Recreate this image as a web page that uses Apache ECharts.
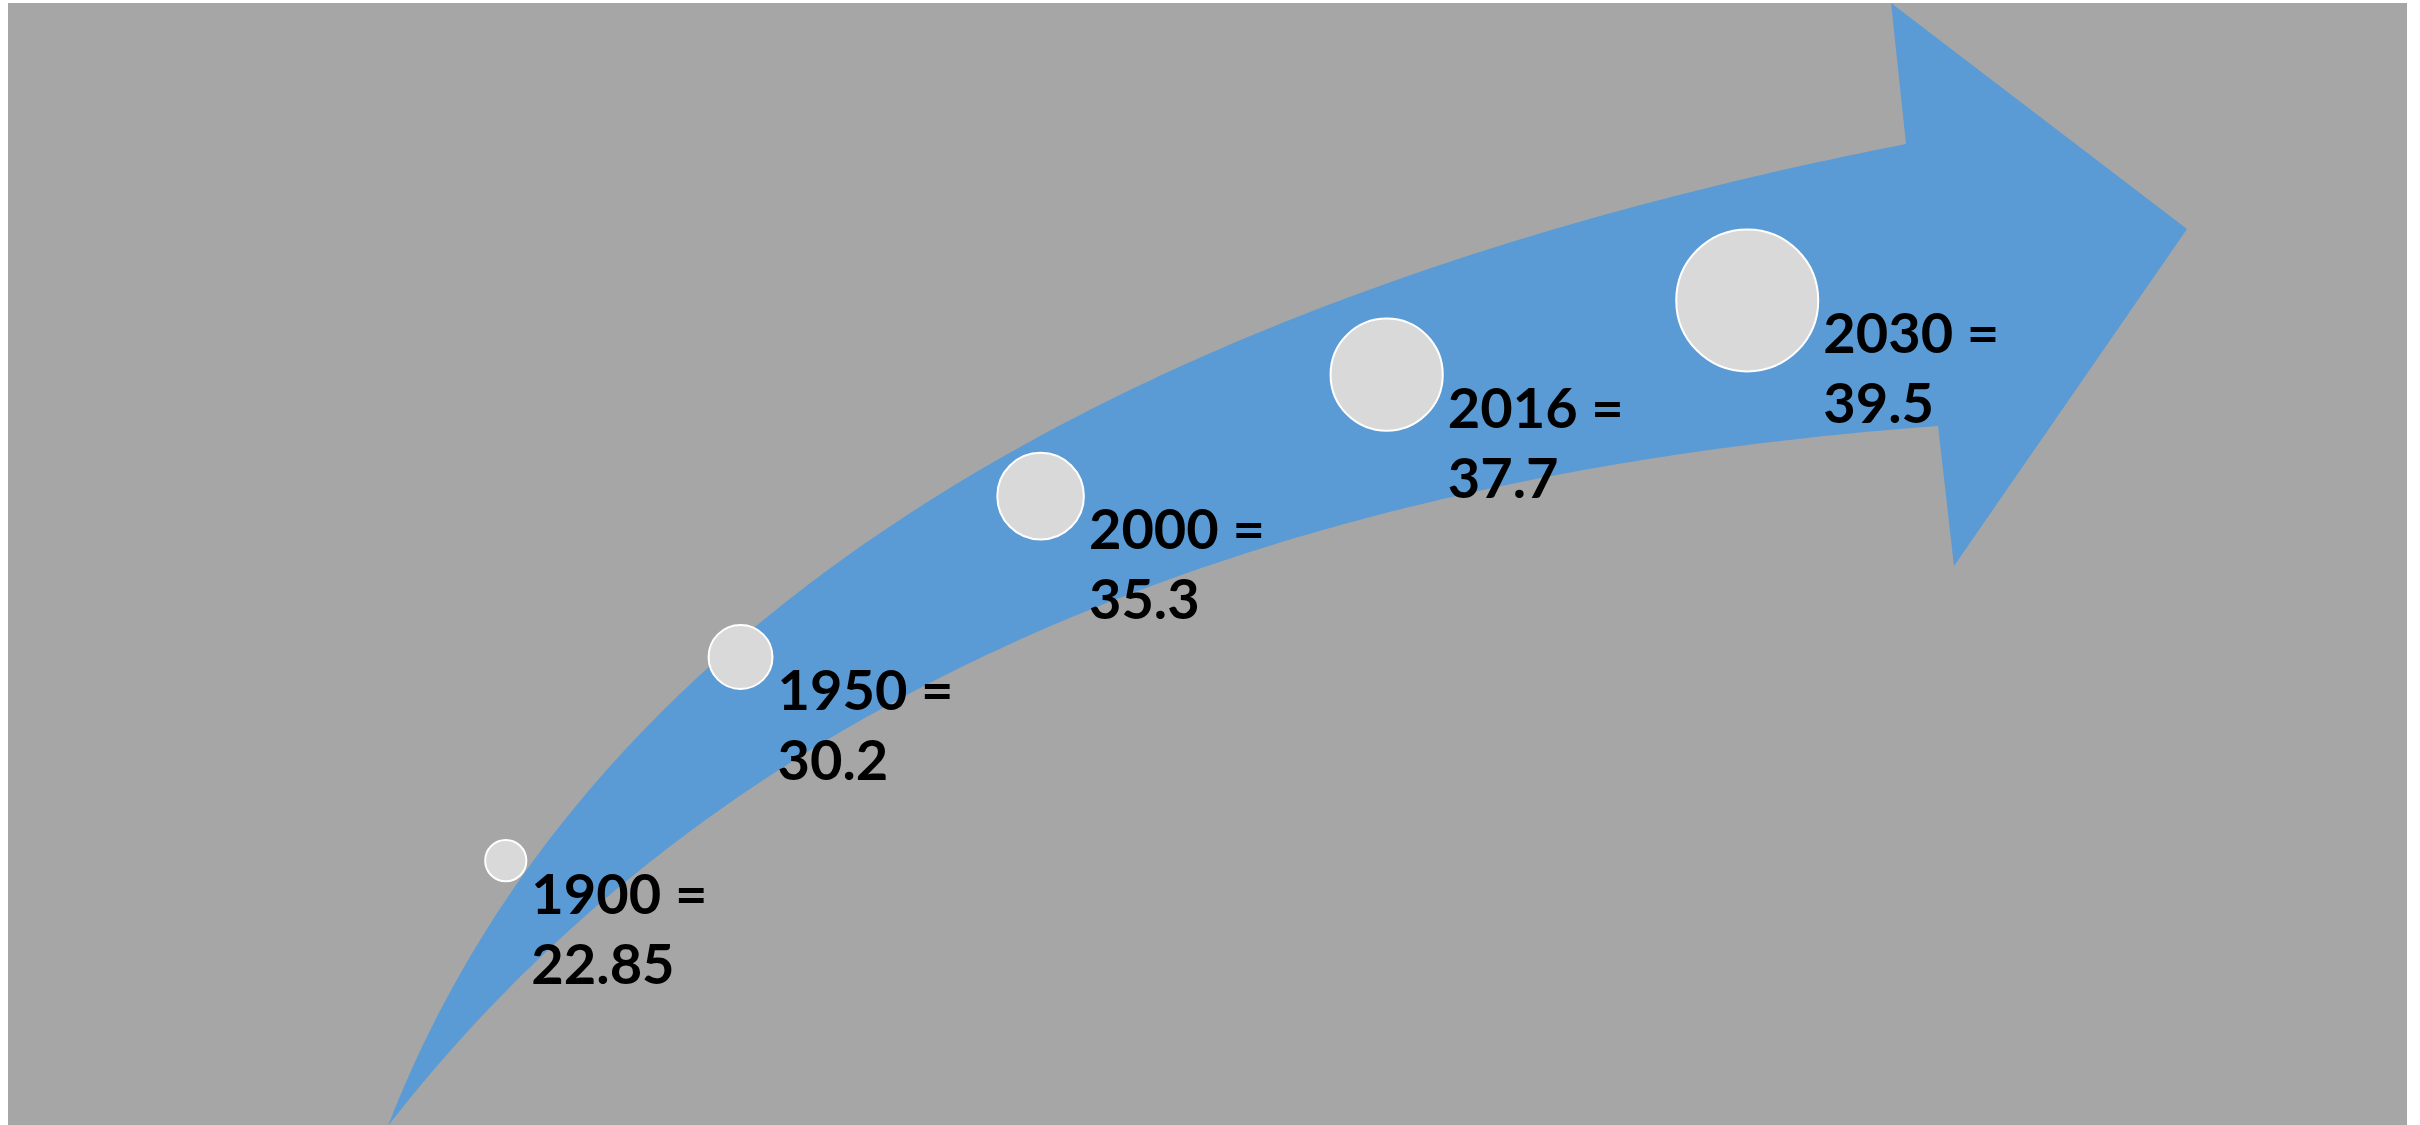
<!DOCTYPE html>
<html>
<head>
<meta charset="utf-8">
<script src="https://cdn.jsdelivr.net/npm/echarts@6/dist/echarts.min.js"></script>
<style>
html,body{margin:0;padding:0;background:#ffffff;}
#main{width:2420px;height:1125px;}
</style>
</head>
<body>
<div id="main"></div>
<script>
// ---- data ----
const years = ['1900', '1950', '2000', '2016', '2030'];
const values = [22.85, 30.2, 35.3, 37.7, 39.5];
const xPos = [20.9, 30.6, 43.0, 57.3, 72.2];
const yPos = [23.5, 41.6, 55.9, 66.7, 73.3];
const bubbleSize = [2.9, 4.5, 6.1, 7.9, 10.0];

// ---- decorative curved arrow (background shape, traced outline) ----
const upperEdge = [[388,1126],[443,1000],[530,863],[617,757],[708,673],[820,573],[920,507],[1020,447],[1120,400],[1220,347],[1340,298],[1640,205],[1906,144]];
const lowerEdge = [[388,1126],[500,1013],[660,850],[750,787],[960,667],[1120,598],[1167,580],[1300,532],[1340,527],[1420,507],[1680,456],[1938,426]];
const headPts = [[1891,3],[2187,229],[1954,566]];

function bez(P, t) {
  const mt = 1 - t, b0 = mt*mt*mt, b1 = 3*mt*mt*t, b2 = 3*mt*t*t, b3 = t*t*t;
  return [b0*P[0][0]+b1*P[1][0]+b2*P[2][0]+b3*P[3][0], b0*P[0][1]+b1*P[1][1]+b2*P[2][1]+b3*P[3][1]];
}
function fitCubic(pts) {
  const P0 = pts[0], P3 = pts[pts.length - 1];
  const d = [0];
  for (let i = 1; i < pts.length; i++) d.push(d[i-1] + Math.hypot(pts[i][0]-pts[i-1][0], pts[i][1]-pts[i-1][1]));
  let ts = d.map(v => v / d[d.length - 1]);
  let P = null;
  for (let it = 0; it < 8; it++) {
    let A11 = 0, A12 = 0, A22 = 0, X1 = [0,0], X2 = [0,0];
    pts.forEach((q, i) => {
      const t = ts[i], mt = 1 - t;
      const b0 = mt*mt*mt, b1 = 3*mt*mt*t, b2 = 3*mt*t*t, b3 = t*t*t;
      const R = [q[0]-b0*P0[0]-b3*P3[0], q[1]-b0*P0[1]-b3*P3[1]];
      A11 += b1*b1; A12 += b1*b2; A22 += b2*b2;
      X1[0] += b1*R[0]; X1[1] += b1*R[1]; X2[0] += b2*R[0]; X2[1] += b2*R[1];
    });
    const det = A11*A22 - A12*A12;
    const P1 = [(A22*X1[0]-A12*X2[0])/det, (A22*X1[1]-A12*X2[1])/det];
    const P2 = [(A11*X2[0]-A12*X1[0])/det, (A11*X2[1]-A12*X1[1])/det];
    P = [P0, P1, P2, P3];
    ts = pts.map((q, i) => {
      if (i === 0) return 0;
      if (i === pts.length - 1) return 1;
      let best = ts[i], bd = Infinity;
      for (let s = 0; s <= 1000; s++) {
        const b = bez(P, s/1000), dd = (b[0]-q[0])**2 + (b[1]-q[1])**2;
        if (dd < bd) { bd = dd; best = s/1000; }
      }
      return best;
    });
  }
  return P;
}
function sampleCurve(P, n) {
  const out = [];
  for (let i = 0; i <= n; i++) out.push(bez(P, i / n));
  return out;
}
const arrowPoly = sampleCurve(fitCubic(upperEdge), 200)
  .concat(headPts)
  .concat(sampleCurve(fitCubic(lowerEdge), 200).reverse());

const chart = echarts.init(document.getElementById('main'), null, { renderer: 'canvas' });
chart.setOption({
  animation: false,
  backgroundColor: '#ffffff',
  graphic: [
    { type: 'rect', z: 0, silent: true, shape: { x: 8, y: 3, width: 2399, height: 1122 }, style: { fill: '#a6a6a6' } },
    { type: 'polygon', z: 1, silent: true, shape: { points: arrowPoly }, style: { fill: '#5b9bd5' } }
  ],
  grid: { left: 0, right: 0, top: 0, bottom: 0 },
  xAxis: { type: 'value', min: 0, max: 100, show: false },
  yAxis: { type: 'value', min: 0, max: 100, show: false },
  series: [{
    type: 'scatter',
    z: 5,
    data: years.map((y, i) => [xPos[i], yPos[i], values[i], bubbleSize[i]]),
    symbol: 'circle',
    symbolSize: d => d[3] * 14.2,
    itemStyle: { color: '#d9d9d9', borderColor: '#ffffff', borderWidth: 2, opacity: 1 },
    label: {
      show: true,
      position: 'right',
      distance: 4,
      align: 'left',
      verticalAlign: 'top',
      fontFamily: 'Lato',
      fontWeight: 'bold',
      fontSize: 56,
      lineHeight: 70,
      color: '#000000',
      formatter: p => years[p.dataIndex] + ' =\n' + values[p.dataIndex]
    },
    emphasis: { disabled: true }
  }]
});
</script>
</body>
</html>
